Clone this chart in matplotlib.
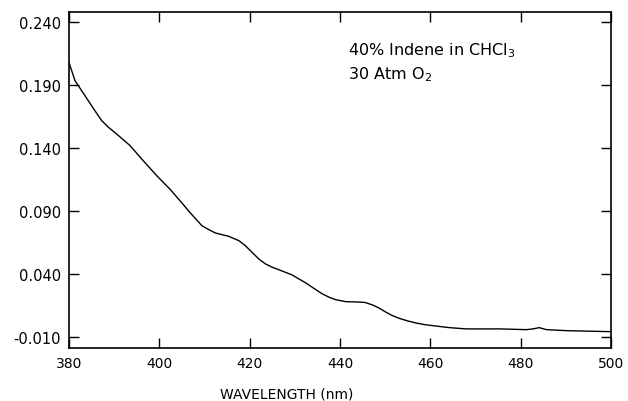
import matplotlib
matplotlib.use("Agg")
import matplotlib.pyplot as plt

# absorbance spectrum
wavelength = [380.0, 381.3, 383.5, 385.7, 387.2, 388.7, 390.5, 393.5, 396.4, 399.4,
              402.4, 405.3, 406.4, 409.4, 410.9, 412.4, 413.8, 415.3, 417.6, 419.0,
              420.5, 422.0, 423.5, 425.0, 426.4, 427.9, 429.4, 430.9, 432.4, 433.8,
              436.1, 437.6, 439.0, 441.3, 443.5, 445.5, 447.2, 448.7, 450.2, 451.6,
              453.1, 455.0, 456.8, 458.7, 460.5, 464.2, 467.9, 475.3, 481.3, 482.7,
              484.1, 485.7, 490.2, 495.0, 500.0]
absorbance = [0.2075, 0.1934, 0.1815, 0.1696, 0.1617, 0.1564, 0.1511, 0.1418, 0.1299, 0.1180,
              0.1070, 0.0950, 0.0902, 0.0783, 0.0752, 0.0725, 0.0712, 0.0699, 0.0664, 0.0625,
              0.0572, 0.0519, 0.0479, 0.0453, 0.0434, 0.0413, 0.0392, 0.0360, 0.0329, 0.0295,
              0.0241, 0.0215, 0.0196, 0.0180, 0.0178, 0.0174, 0.0154, 0.0128, 0.0096, 0.0069,
              0.0048, 0.0027, 0.0011, -0.0002, -0.0010, -0.0026, -0.0036, -0.0036, -0.0042, -0.0036,
              -0.0026, -0.0042, -0.0050, -0.0054, -0.0058]

x_ticks = [380, 400, 420, 440, 460, 480, 500]
y_ticks = [-0.010, 0.040, 0.090, 0.140, 0.190, 0.240]
y_labels = ["-0.010", "0.040", "0.090", "0.140", "0.190", "0.240"]

fig = plt.figure(figsize=(6.28, 4.02), dpi=100)
ax = fig.add_axes([0.110, 0.132, 0.863, 0.836])

ax.plot(wavelength, absorbance, color="black", linewidth=1.0)

ax.set_xlim(380, 500)
ax.set_ylim(-0.0187, 0.2479)
ax.set_xticks(x_ticks)
ax.set_yticks(y_ticks)
ax.set_yticklabels(y_labels)
ax.tick_params(direction="in", length=7, width=1.0, top=True, right=True,
               labelsize=10, pad=6)
ax.tick_params(axis="y", labelsize=10.5)
for s in ax.spines.values():
    s.set_linewidth(1.2)

ax.text(441.8, 0.2178, "40% Indene in CHCl$_3$", fontsize=11.5, va="center")
ax.text(441.8, 0.1987, "30 Atm O$_2$", fontsize=11.5, va="center")

fig.text(287 / 628, 1 - 395 / 402, "WAVELENGTH (nm)", fontsize=10,
         ha="center", va="center")

fig.savefig("out.png", dpi=100)
